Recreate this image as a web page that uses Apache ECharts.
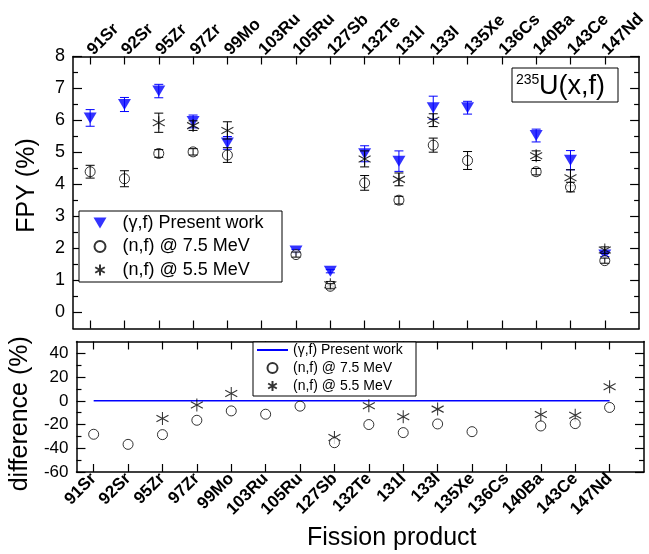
<!DOCTYPE html>
<html><head><meta charset="utf-8">
<script src="https://cdn.jsdelivr.net/npm/echarts@6/dist/echarts.min.js"></script>
<style>html,body{margin:0;padding:0;background:#fff}#c{width:649px;height:554px}</style>
</head><body><div id="c"></div>
<script>
// ---- data ----
const categories = ['91Sr','92Sr','95Zr','97Zr','99Mo','103Ru','105Ru','127Sb','132Te','131I','133I','135Xe','136Cs','140Ba','143Ce','147Nd'];
const gammaFPY = [6.08, 6.50, 6.92, 5.97, 5.30, null, 1.92, 1.29, 4.96, 4.73, 6.40, 6.40, null, 5.53, 4.76, 1.80];
const gammaErr = [0.26, 0.22, 0.21, 0.20, 0.20, null, 0.05, 0.05, 0.25, 0.32, 0.36, 0.20, null, 0.20, 0.30, 0.05];
const n75FPY   = [4.40, 4.18, 4.97, 5.02, 4.92, null, 1.81, 0.82, 4.05, 3.51, 5.23, 4.75, null, 4.40, 3.92, 1.62];
const n75Err   = [0.20, 0.25, 0.12, 0.10, 0.23, null, 0.08, 0.08, 0.23, 0.12, 0.22, 0.28, null, 0.10, 0.15, 0.08];
const n55FPY   = [null, null, 5.93, 5.84, 5.69, null, null, 0.87, 4.80, 4.16, 6.01, null, null, 4.90, 4.21, 1.95];
const n55Err   = [null, null, 0.30, 0.15, 0.27, null, null, 0.10, 0.25, 0.20, 0.20, null, null, 0.15, 0.25, 0.10];
const gammaDiff = [0,0,0,0,0,0,0,0,0,0,0,0,0,0,0,0];
const n75Diff  = [-28.2, -36.7, -28.5, -16.4, -8.5, -11.3, -4.5, -35.3, -20.0, -26.8, -19.5, -26.0, null, -21.2, -19.2, -5.6];
const n55Diff  = [null, null, -14.9, -3.6, 6.2, null, null, -31.0, -4.2, -13.5, -7.0, null, null, -11.5, -12.1, 11.9];
const fpyTicks = [0,1,2,3,4,5,6,7,8];
const fpyMinorTicks = [0.5,1.5,2.5,3.5,4.5,5.5,6.5,7.5];
const diffTicks = [-60,-40,-20,0,20,40];
const diffMinorTicks = [-50,-30,-10,10,30];
const catTicks = categories.map((c, i) => i);
const names = ['(γ,f) Present work', '(n,f) @ 7.5 MeV', '(n,f) @ 5.5 MeV'];

// ---- chart ----
const FONT = '"Liberation Sans", Arial, sans-serif';
const BLUE = '#0000ff';
const STAR = 'path://M6,0L6,12M0.8,3L11.2,9M0.8,9L11.2,3';
const TRI_DOWN = 'path://M0,0L13,0L6.5,11Z';
const chart = echarts.init(document.getElementById('c'), null, {renderer: 'canvas'});

function xAx(grid, pos, labels, rot) {
  return {
    type: 'value', gridIndex: grid, position: pos, min: -0.5, max: 16,
    axisLine: {show: true, onZero: false, lineStyle: {color: '#000', width: 1.5}},
    axisTick: {show: true, inside: true, length: 8, customValues: catTicks, lineStyle: {color: '#000', width: 1.2}},
    axisLabel: {show: labels, customValues: catTicks, rotate: rot, margin: 4,
      formatter: v => categories[Math.round(v)] || '',
      fontFamily: FONT, fontSize: 17, fontWeight: 'bold', color: '#000'},
    splitLine: {show: false}
  };
}
function yAx(grid, pos, min, max, ticks, len, labels, fs, line) {
  return {
    type: 'value', gridIndex: grid, position: pos, min: min, max: max,
    axisLine: {show: line, onZero: false, lineStyle: {color: '#000', width: 1.5}},
    axisTick: {show: true, inside: true, length: len, customValues: ticks, lineStyle: {color: '#000', width: 1.2}},
    axisLabel: {show: labels, customValues: ticks, margin: 8, fontFamily: FONT, fontSize: fs, color: '#000'},
    splitLine: {show: false}
  };
}
function pts(vals) { return vals.map((v, i) => v == null ? null : [i, v]).filter(d => d); }
function errSeries(vals, errs, color, z) {
  return {
    type: 'custom', name: 'err', xAxisIndex: 0, yAxisIndex: 0, silent: true, z: z,
    data: vals.map((v, i) => v == null ? null : [i, v, errs[i]]).filter(d => d),
    renderItem(params, api) {
      const x = api.value(0), y = api.value(1), e = api.value(2);
      const t = api.coord([x, y + e]), b = api.coord([x, y - e]);
      const s = {stroke: color, lineWidth: 1};
      return {type: 'group', children: [
        {type: 'line', shape: {x1: t[0], y1: t[1], x2: b[0], y2: b[1]}, style: s},
        {type: 'line', shape: {x1: t[0] - 4.5, y1: t[1], x2: t[0] + 4.5, y2: t[1]}, style: s},
        {type: 'line', shape: {x1: b[0] - 4.5, y1: b[1], x2: b[0] + 4.5, y2: b[1]}, style: s}
      ]};
    }
  };
}

const xAxes = [xAx(0, 'top', true, -45), xAx(0, 'bottom', false, 0), xAx(1, 'top', false, 0), xAx(1, 'bottom', true, 45)];
xAxes[3].name = 'Fission product';
xAxes[3].nameLocation = 'middle';
xAxes[3].nameGap = 54;
xAxes[3].nameTextStyle = {fontFamily: FONT, fontSize: 25, color: '#000', padding: [0, 0, 0, 63]};

const yAxes = [
  yAx(0, 'left', -0.5, 8, fpyTicks, 9, true, 18, true),
  yAx(0, 'left', -0.5, 8, fpyMinorTicks, 5, false, 18, false),
  yAx(0, 'right', -0.5, 8, fpyTicks, 9, false, 18, true),
  yAx(0, 'right', -0.5, 8, fpyMinorTicks, 5, false, 18, false),
  yAx(1, 'left', -60, 50, diffTicks, 9, true, 17, true),
  yAx(1, 'left', -60, 50, diffMinorTicks, 5, false, 17, false),
  yAx(1, 'right', -60, 50, diffTicks, 9, false, 17, true),
  yAx(1, 'right', -60, 50, diffMinorTicks, 5, false, 17, false)
];
Object.assign(yAxes[0], {name: 'FPY (%)', nameLocation: 'middle', nameRotate: 90, nameGap: 33,
  nameTextStyle: {fontFamily: FONT, fontSize: 25, color: '#000', padding: [0, 0, 0, 14]}});
Object.assign(yAxes[4], {name: 'difference (%)', nameLocation: 'middle', nameRotate: 90, nameGap: 36,
  nameTextStyle: {fontFamily: FONT, fontSize: 25, color: '#000', padding: [0, 14, 0, 0]}});

const circleStyle = {color: '#fff', borderColor: '#000', borderWidth: 1};
const starStyle = {color: 'transparent', borderColor: '#000', borderWidth: 1.1};

const option = {
  animation: false,
  backgroundColor: '#fff',
  grid: [
    {left: 73, right: 5, top: 56.5, height: 272, containLabel: false},
    {left: 73, right: 5, top: 341.5, height: 130.5, containLabel: false}
  ],
  xAxis: xAxes,
  yAxis: yAxes,
  legend: [
    {orient: 'vertical', left: 93.5, top: 213, padding: 0, itemWidth: 13, itemHeight: 11, itemGap: 3.5,
     selectedMode: false, z: 10,
     data: [{name: names[0], icon: TRI_DOWN}, {name: names[1]}, {name: names[2]}],
     textStyle: {fontFamily: FONT, fontSize: 18, lineHeight: 20, color: '#000', padding: [0, 0, 0, 11]}},
    {orient: 'vertical', left: 256, top: 342, padding: 0, itemWidth: 31, itemHeight: 10, itemGap: 2,
     selectedMode: false, z: 10,
     data: [{name: 'Δ' + names[0], itemStyle: {opacity: 0}}, {name: 'Δ' + names[1]}, {name: 'Δ' + names[2]}],
     formatter: n => n.slice(1),
     textStyle: {fontFamily: FONT, fontSize: 14, lineHeight: 16, color: '#000'}}
  ],
  graphic: [
    {type: 'rect', z: 9, shape: {x: 79, y: 211, width: 203, height: 71}, style: {fill: '#fff', stroke: '#000', lineWidth: 1}},
    {type: 'rect', z: 9, shape: {x: 253, y: 342, width: 163, height: 54}, style: {fill: '#fff', stroke: '#000', lineWidth: 1}},
    {type: 'rect', z: 9, shape: {x: 512, y: 68, width: 106, height: 34}, style: {fill: '#fff', stroke: '#000', lineWidth: 1}},
    {type: 'text', z: 10, x: 516, y: 73, style: {text: '235', fontFamily: FONT, fontSize: 14, fill: '#000', verticalAlign: 'top'}},
    {type: 'text', z: 10, x: 539, y: 87, style: {text: 'U(x,f)', fontFamily: FONT, fontSize: 27, fill: '#000', verticalAlign: 'middle'}}
  ],
  series: [
    {type: 'scatter', name: names[0], xAxisIndex: 0, yAxisIndex: 0, symbol: TRI_DOWN,
     symbolSize: [13, 11], itemStyle: {color: BLUE}, data: pts(gammaFPY), z: 2},
    errSeries(gammaFPY, gammaErr, BLUE, 3),
    {type: 'scatter', name: names[2], xAxisIndex: 0, yAxisIndex: 0, symbol: STAR, symbolSize: [12, 13],
     itemStyle: starStyle, data: pts(n55FPY), z: 4},
    errSeries(n55FPY, n55Err, '#000', 5),
    {type: 'scatter', name: names[1], xAxisIndex: 0, yAxisIndex: 0, symbol: 'circle', symbolSize: 10,
     itemStyle: circleStyle, data: pts(n75FPY), z: 6},
    errSeries(n75FPY, n75Err, '#000', 7),
    {type: 'line', name: 'Δ' + names[0], xAxisIndex: 3, yAxisIndex: 4, symbol: 'none', showSymbol: false,
     lineStyle: {color: BLUE, width: 1.5}, itemStyle: {color: BLUE}, data: pts(gammaDiff), z: 2},
    {type: 'scatter', name: 'Δ' + names[2], xAxisIndex: 3, yAxisIndex: 4, symbol: STAR, symbolSize: [12, 13],
     itemStyle: starStyle, data: pts(n55Diff), z: 4},
    {type: 'scatter', name: 'Δ' + names[1], xAxisIndex: 3, yAxisIndex: 4, symbol: 'circle', symbolSize: 10,
     itemStyle: circleStyle, data: pts(n75Diff), z: 6}
  ]
};
chart.setOption(option);
</script></body></html>
